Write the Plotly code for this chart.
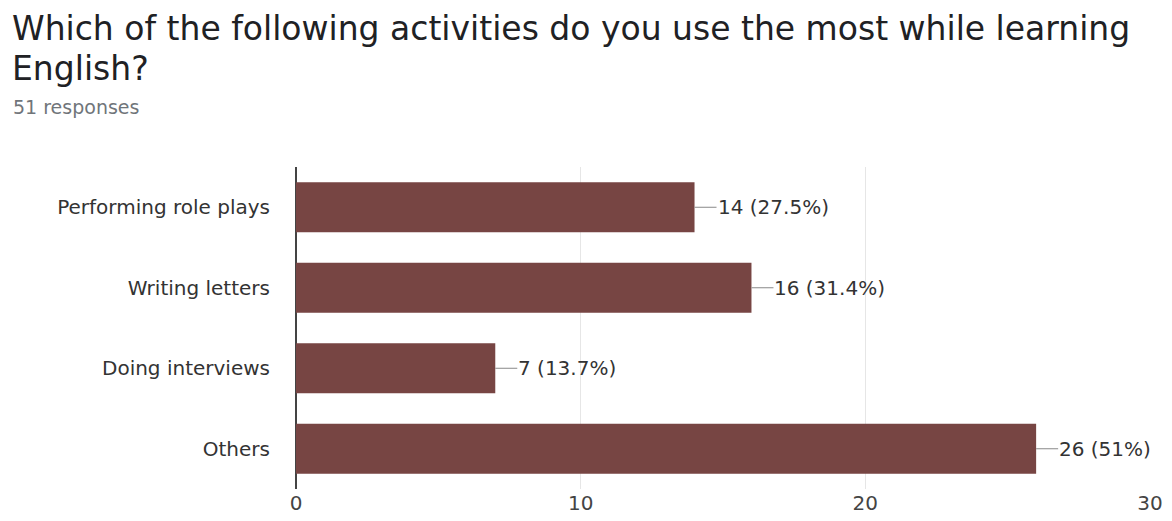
import plotly.graph_objects as go

categories = ["Performing role plays", "Writing letters", "Doing interviews", "Others"]
counts = [14, 16, 7, 26]
percents = ["27.5%", "31.4%", "13.7%", "51%"]
x_ticks = [0, 10, 20, 30]

bar_color = "#774543"
FONT = "DejaVu Sans"

W, H = 1172, 521
L, R, T, B = 296, 22, 167, 32
PW, PH = W - L - R, H - T - B


def px_x(px):
    return (px - L) / PW


def px_y(py):
    return 1 + (T - py) / PH


fig = go.Figure()
fig.add_trace(go.Bar(
    y=categories, x=counts, orientation="h",
    marker=dict(color=bar_color, line=dict(width=0)),
    hoverinfo="skip",
))

for c, v, p in zip(categories, counts, percents):
    fig.add_annotation(
        x=v, y=c, xref="x", yref="y",
        text=f"{v} ({p})", showarrow=True, arrowhead=0, arrowwidth=1,
        arrowcolor="#888888", ax=22, ay=0, xanchor="left", standoff=0,
        borderpad=0,
        font=dict(family=FONT, size=20, color="#333333"),
    )

fig.update_layout(
    width=W, height=H,
    margin=dict(l=L, r=R, t=T, b=B),
    paper_bgcolor="white", plot_bgcolor="white",
    bargap=0.38,
    showlegend=False,
    xaxis=dict(
        range=[0, 30], tickvals=x_ticks, showgrid=True, gridcolor="#e6e6e6",
        gridwidth=1, zeroline=True, zerolinecolor="#444444", zerolinewidth=1.5,
        tickfont=dict(family=FONT, size=20, color="#444444"),
        ticks="", showline=False, fixedrange=True, automargin=False,
    ),
    yaxis=dict(
        categoryorder="array", categoryarray=categories, autorange="reversed",
        tickfont=dict(family=FONT, size=20, color="#333333"),
        ticks="outside", ticklen=21, tickcolor="rgba(0,0,0,0)",
        showgrid=False, zeroline=False, showline=False, fixedrange=True,
        automargin=False,
    ),
)

title_lines = ["Which of the following activities do you use the most while learning", "English?"]
title_mid = [28, 68]
for line, ym in zip(title_lines, title_mid):
    fig.add_annotation(
        xref="paper", yref="paper", x=px_x(10), y=px_y(ym),
        xanchor="left", yanchor="middle", showarrow=False,
        text=line, font=dict(family=FONT, size=33, color="#202124"),
    )
fig.add_annotation(
    xref="paper", yref="paper", x=px_x(11), y=px_y(107),
    xanchor="left", yanchor="middle", showarrow=False,
    text="51 responses",
    font=dict(family=FONT, size=19, color="#70757a"),
)

fig.write_html("out.html")
